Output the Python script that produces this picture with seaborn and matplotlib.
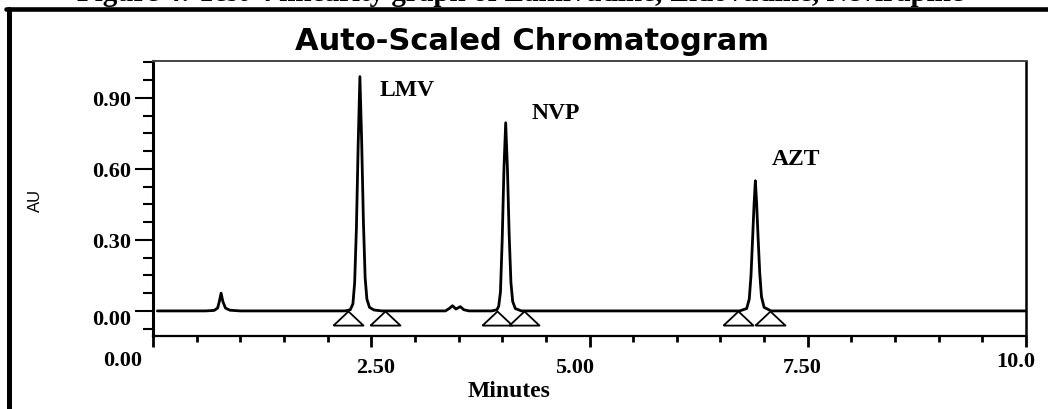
import matplotlib
matplotlib.use("Agg")
import matplotlib.pyplot as plt
import matplotlib.transforms as mtransforms
from matplotlib.lines import Line2D
from matplotlib.ticker import MultipleLocator
import seaborn as sns
import pandas as pd

# ---------------- data ----------------
time_min = [0.05, 0.60, 0.70, 0.74, 0.76, 0.78, 0.80, 0.83, 0.88, 1.00,
            2.20, 2.26, 2.29, 2.31, 2.33, 2.35, 2.37, 2.39, 2.41, 2.43, 2.45, 2.48, 2.53, 2.62,
            3.35, 3.40, 3.43, 3.47, 3.52, 3.56, 3.62,
            3.88, 3.94, 3.96, 3.98, 4.00, 4.02, 4.04, 4.06, 4.08, 4.10, 4.12, 4.15, 4.22,
            6.72, 6.80, 6.83, 6.85, 6.87, 6.885, 6.90, 6.915, 6.93, 6.95, 6.97, 7.00, 7.08,
            10.0]
signal_au = [0.0, 0.0, 0.002, 0.012, 0.04, 0.075, 0.04, 0.012, 0.003, 0.0,
             0.0, 0.005, 0.03, 0.12, 0.35, 0.70, 0.99, 0.72, 0.38, 0.14, 0.05, 0.015, 0.004, 0.0,
             0.0, 0.012, 0.022, 0.008, 0.018, 0.005, 0.0,
             0.0, 0.005, 0.02, 0.08, 0.30, 0.60, 0.795, 0.60, 0.32, 0.12, 0.04, 0.01, 0.0,
             0.0, 0.01, 0.05, 0.15, 0.32, 0.45, 0.55, 0.45, 0.32, 0.16, 0.06, 0.015, 0.0,
             0.0]

peak_names = ["LMV", "NVP", "AZT"]
label_time = [2.60, 4.34, 7.09]
label_au = [0.934, 0.837, 0.646]

# integration start / end markers (triangles sitting on the baseline)
tri_time = [2.23, 2.66, 3.94, 4.25, 6.70, 7.07]
tri_au = [0.0, 0.0, 0.0, 0.0, 0.0, 0.0]

x_ticks = [0.0, 2.5, 5.0, 7.5, 10.0]
x_tick_labels = ["0.00", "2.50", "5.00", "7.50", "10.0"]
y_ticks = [0.0, 0.3, 0.6, 0.9]
y_tick_labels = ["0.00", "0.30", "0.60", "0.90"]

title_text = "Auto-Scaled Chromatogram"
caption_text = "Figure 4: Test-4 linearity graph of Lamivudine, Zidovudine, Nevirapine"

# ---------------- style ----------------
sns.set_style("ticks")
plt.rcParams["font.family"] = ["Liberation Serif", "DejaVu Serif"]
plt.rcParams["text.color"] = "black"
plt.rcParams["axes.labelcolor"] = "black"
plt.rcParams["xtick.color"] = "black"
plt.rcParams["ytick.color"] = "black"
plt.rcParams["axes.edgecolor"] = "black"

W, H = 1048, 410
fig = plt.figure(figsize=(W / 100, H / 100), dpi=100)
fig.patch.set_facecolor("white")
ax = fig.add_axes([153 / W, 1 - 337 / H, (1026 - 153) / W, (337 - 62) / H])

trace = pd.DataFrame({"Minutes": time_min, "AU": signal_au})
sns.lineplot(data=trace, x="Minutes", y="AU", ax=ax, color="black",
             linewidth=2.0, estimator=None, sort=False)

tri = pd.DataFrame({"t": tri_time, "v": tri_au})
tri_marker = [(-1, -0.94), (1, -0.94), (0, 0), (-1, -0.94)]
sns.scatterplot(data=tri, x="t", y="v", ax=ax, marker=tri_marker, s=21.6 ** 2,
                facecolor="white", edgecolor="black", linewidth=1.3, zorder=3)

for name, t, v in zip(peak_names, label_time, label_au):
    ax.text(t, v, name, ha="left", va="center", fontsize=17, fontweight="bold")

ax.set_xlim(0, 10)
ax.set_ylim(-0.106, 1.056)

ax.set_xticks(x_ticks, x_tick_labels)
ax.set_yticks(y_ticks, y_tick_labels)
ax.xaxis.set_minor_locator(MultipleLocator(0.5))
ax.yaxis.set_minor_locator(MultipleLocator(0.075))
ax.tick_params(axis="x", which="major", length=8, width=2, direction="out", pad=7, labelsize=16)
ax.tick_params(axis="x", which="minor", length=4, width=2, direction="out")
ax.tick_params(axis="y", which="major", length=13, width=1.5, direction="out", pad=3, labelsize=16)
ax.tick_params(axis="y", which="minor", length=7, width=1.5, direction="out")
for lab in ax.get_xticklabels() + ax.get_yticklabels():
    lab.set_fontweight("bold")

for side, lw in [("left", 2.2), ("bottom", 1.6), ("right", 1.8), ("top", 1.4)]:
    ax.spines[side].set_visible(True)
    ax.spines[side].set_linewidth(lw)
    ax.spines[side].set_color("black")
ax.spines["top"].set_color("#444444")

ax.set_xlabel("Minutes", fontsize=17, fontweight="bold")
ax.xaxis.set_label_coords(0.408, -0.2)
ax.xaxis.label.set_va("center")
ax.set_ylabel("AU", family=["Liberation Sans", "DejaVu Sans"], fontsize=12)
ax.yaxis.set_label_coords(-0.135, 0.498)
ax.yaxis.label.set_va("center")

fig.text(532 / W, 1 - 42 / H, title_text, ha="center", va="center",
         family=["DejaVu Sans"], fontweight="bold", fontsize=22)
fig.text(77 / W, 1 - 1 / H, caption_text, ha="left", va="baseline",
         fontsize=21, fontweight="bold")

# outer frame of the figure panel
fig.add_artist(Line2D([6 / W, 1.0], [1 - 9.5 / H] * 2, transform=fig.transFigure,
                      color="black", linewidth=3.3))
fig.add_artist(Line2D([8.5 / W] * 2, [0.0, 1 - 9.5 / H], transform=fig.transFigure,
                      color="black", linewidth=3.6))

# small irregular placement of the tick labels, as in the original
x_offsets = [(-30, 7), (4, 0), (-15, 0), (-6, 0), (-10, 6)]
for tick, (dx, dy) in zip(ax.xaxis.get_major_ticks(), x_offsets):
    tick.label1.set_transform(tick.label1.get_transform() +
                              mtransforms.ScaledTranslation(dx / 100, dy / 100, fig.dpi_scale_trans))
y_offsets = [(0, -6), (0, 0), (0, 0), (0, 0)]
for tick, (dx, dy) in zip(ax.yaxis.get_major_ticks(), y_offsets):
    tick.label1.set_transform(tick.label1.get_transform() +
                              mtransforms.ScaledTranslation(dx / 100, dy / 100, fig.dpi_scale_trans))

fig.savefig("out.png", dpi=100)
